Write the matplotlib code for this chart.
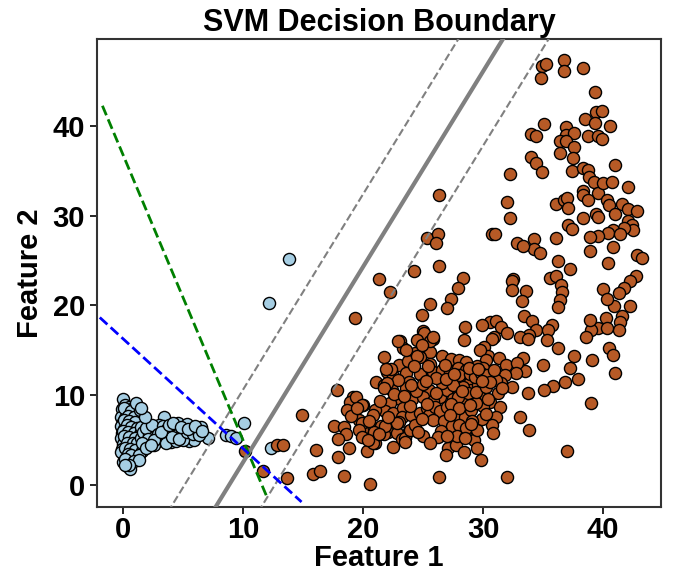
import matplotlib
matplotlib.use("Agg")
import matplotlib.pyplot as plt
import numpy as np

plt.rcParams['font.family'] = ['Liberation Sans', 'DejaVu Sans']
plt.rcParams['font.weight'] = 'bold'

# ---- class 0 (light blue) ----
blue_x = [0.0, 0.2, 0.5, 0.8, 1.1, -0.1, 0.3, 0.6, 1.0, 1.4, -0.2, 0.2, 0.7, 1.2, 1.6, 0.0, 0.4, 0.9, 1.3, -0.2,
          0.1, 0.6, 1.1, 1.6, 2.0, -0.1, 0.3, 0.8, 1.2, 1.7, -0.2, 0.2, 0.6, 1.0, 1.4, 0.0, 0.4, 0.9, 1.3, -0.1,
          0.3, 0.7, 1.1, 0.1, 0.5, 0.9, 0.2, 0.6, 0.3, 0.6, 0.8, -0.2, 0.0,
          1.8, 2.1, 2.3, 2.5, 2.7, 2.9, 3.1, 3.3, 3.4, 3.6, 3.8, 4.0, 4.2, 4.4, 4.6, 4.8, 5.0, 5.2, 5.4, 5.6,
          5.8, 6.0, 6.2, 6.5, 2.0, 2.6, 1.9, 3.0, 4.0, 4.6, 5.3, 5.5, 7.1, 8.6, 9.0, 9.45, 10.1, 12.3, 12.2, 13.8,
          0.1, 0.7, 0.4, 0.9, 0.1, 0.5, 1.0, 0.3, 0.7, 1.2, 0.0, 0.4, 0.9, 1.4, 0.1, 0.5, 1.0, 0.3, 0.8, 1.2,
          0.2, 0.6, 1.0, 0.4, 0.7, 0.2, 1.5, 1.5, 1.7, 2.2, 2.4, 2.8, 3.0, 3.5, 3.9, 4.3, 4.5, 4.9, 5.1, 5.7,
          6.1, 5.9, 2.2, 1.8, 1.6, 1.3, 3.6, 4.4, 5.0,
          1.9, 2.4, 2.9, 3.3, 3.7, 4.1, 4.7, 5.3, 5.8, 6.3, 2.1, 2.6, 3.2, 3.8, 4.2, 4.8, 5.4, 6.0, 6.6, 1.4,
          1.8, 1.1, 1.5, 0.9, 1.3, 0.5, 0.2, 1.6, 1.9, 2.3]
blue_y = [9.6, 8.9, 8.7, 8.5, 8.3, 8.4, 8.1, 7.9, 7.8, 7.9, 7.6, 7.4, 7.3, 7.2, 7.0, 7.0, 6.8, 6.7, 6.5, 6.5,
          6.2, 6.1, 6.0, 6.1, 6.3, 5.8, 5.6, 5.5, 5.4, 5.5, 5.2, 5.0, 4.9, 4.8, 4.9, 4.5, 4.3, 4.2, 4.4, 4.0,
          3.8, 3.6, 3.7, 3.3, 3.0, 3.1, 2.7, 2.4, 2.1, 1.7, 2.9, 3.6, 2.5,
          6.8, 5.9, 5.2, 6.4, 5.7, 4.9, 6.1, 5.4, 7.6, 5.9, 5.0, 6.3, 5.6, 6.6, 5.2, 6.0, 5.5, 6.3, 5.0, 5.8,
          6.1, 5.4, 5.9, 6.4, 4.6, 4.4, 5.0, 6.7, 4.8, 6.9, 6.8, 4.9, 5.25, 5.5, 5.4, 5.2, 6.9, 4.1, 20.3, 25.2,
          8.6, 8.2, 7.7, 7.5, 7.2, 7.1, 7.0, 6.6, 6.4, 6.3, 6.0, 5.9, 5.8, 5.7, 5.4, 5.3, 5.2, 4.7, 4.6, 4.6,
          4.1, 4.0, 3.9, 3.4, 3.3, 2.9, 5.2, 6.4, 5.9, 5.5, 6.0, 6.2, 5.2, 5.5, 5.8, 6.1, 5.5, 5.7, 6.0, 5.5,
          6.2, 5.0, 4.8, 4.3, 3.8, 3.3, 4.7, 4.9, 5.0,
          6.3, 6.6, 5.6, 6.5, 6.2, 5.3, 5.1, 5.9, 5.6, 5.5, 5.1, 5.0, 5.9, 6.6, 6.9, 6.4, 6.2, 6.5, 6.0, 8.3,
          7.6, 9.1, 8.6, 2.6, 2.8, 2.2, 2.2, 4.6, 4.1, 4.4]

# ---- class 1 (brown) ----
brown_x = [34.9, 35.2, 34.8, 36.7, 36.7, 38.3, 39.3, 39.4, 39.9, 38.5, 39.3, 40.6, 35.1, 34.0, 34.4, 36.9, 36.9, 37.6,
           38.7, 39.6, 39.9, 36.4, 36.9, 36.4, 37.6, 37.5, 34.0, 34.4, 34.9, 37.4, 38.3, 38.7, 38.8, 39.2, 39.6, 40.0,
           40.7, 41.0, 42.1, 32.2, 32.0, 32.2, 36.1, 36.7, 37.0, 37.1, 38.3, 38.3, 38.7, 40.3, 40.5, 41.6, 42.1, 42.8,
           41.0, 42.1, 42.4, 42.5, 41.7, 40.8, 40.4, 39.6, 38.9, 39.4, 39.6, 38.3, 37.1, 37.4, 36.1, 34.2, 34.2, 34.7,
           32.8, 33.3, 30.7, 31.0, 26.3, 25.3, 26.2, 26.1, 26.3, 24.2, 38.9, 40.8, 42.8, 43.2, 40.4, 36.2, 37.2, 35.6,
           36.1, 32.5, 28.3, 21.3, 41.4,
           22.2, 27.9, 27.3, 25.6, 27.0,
           32.4, 32.4, 33.6, 33.2, 33.4, 34.1, 34.4, 33.8, 33.1, 33.7, 36.45, 36.6, 36.4, 36.2, 35.7, 35.4, 35.3, 36.2,
           37.6, 37.2, 37.9, 36.8, 35.8, 35.1, 35.0, 33.7, 32.4, 33.1, 33.8, 37.0, 32.0, 40.0, 42.7, 42.2, 41.7, 41.3,
           40.9, 40.3, 42.2, 41.6, 41.4, 41.3, 40.2, 39.6, 39.0, 38.6, 38.9, 40.5, 40.8, 41.0, 39.1, 39.0, 30.6, 31.1,
           31.5, 32.0, 30.9, 30.7, 30.1, 30.4, 31.3, 31.9, 33.3, 33.5, 32.8, 32.7, 31.8, 29.7, 40.3, 31.5, 31.1,
           31.25, 30.56, 31.39, 31.1, 30.78, 30.83, 29.86, 30.14, 30.28,
           24.9, 28.5, 28.4, 29.9, 25.0, 25.1, 23.1, 23.3, 24.5, 25.8, 25.6, 21.7, 24.3, 24.7, 23.0, 23.7, 25.6, 26.6,
           27.3, 28.0, 28.6, 29.5, 30.0, 22.0, 22.5, 23.6, 23.8, 24.8, 25.8, 26.6, 27.2, 27.9, 28.6, 21.1, 21.7, 22.4,
           23.6, 25.5, 26.4, 27.0, 27.8, 28.3, 28.9, 29.0, 29.6, 29.7, 29.2, 30.0, 28.2, 27.5, 23.1, 22.2, 24.1, 25.0,
           25.8, 21.1, 21.8, 22.5, 23.3, 23.2, 24.0, 24.7, 25.3, 25.5, 26.0, 26.4, 27.0, 27.5, 27.9, 28.5, 29.0, 25.8,
           26.7, 27.4, 28.0, 20.8, 21.5, 22.1, 22.8, 23.8, 25.0, 21.1, 21.0, 23.2, 22.5, 27.1, 27.7, 27.8, 28.6, 29.2,
           29.5, 26.3, 20.6, 28.6, 29.5, 29.4, 28.6, 27.4, 27.9,
           22.9, 23.6, 25.6, 25.8, 24.5, 24.7, 25.4, 22.3, 22.9, 22.0, 21.7, 19.2, 20.0, 21.0, 20.8, 19.7, 19.9, 21.0,
           21.7, 21.8, 20.3, 23.5, 23.9, 28.5,
           17.8, 14.9, 18.9, 19.4, 19.9, 18.7, 19.0, 19.9, 19.7, 19.9, 17.6, 18.4, 18.6, 17.9, 18.8, 20.8, 20.9, 21.3,
           16.1, 17.9, 15.8, 16.4, 18.4, 13.7, 12.8, 13.3, 10.2, 11.7, 19.3,
           28.0, 28.9, 29.3, 29.8, 30.3, 28.3, 28.7, 29.4, 30.2, 30.6, 27.3, 28.0, 26.6, 26.1, 27.5, 30.4, 29.9, 29.1,
           24.4, 24.0,
           22.6, 23.0, 23.9, 24.3, 24.9, 25.3, 26.1, 26.9, 27.6, 28.2, 28.8, 29.6, 26.5, 25.0, 24.2, 23.4, 22.8, 21.4,
           20.4, 19.5, 26.2, 27.0, 28.9, 29.9, 30.9, 31.6, 25.6, 26.9, 22.1, 24.6, 27.2, 28.4, 29.0, 30.2, 21.9, 20.5,
           24.9, 26.8, 23.5, 25.2]
brown_y = [46.7, 46.9, 45.4, 47.4, 46.1, 46.5, 43.8, 41.6, 41.7, 40.8, 40.3, 40.0, 40.2, 39.1, 38.9, 39.9, 39.0, 39.2,
           38.9, 38.9, 38.6, 38.3, 38.3, 37.0, 37.7, 36.4, 36.5, 35.9, 34.9, 35.0, 35.3, 35.1, 34.3, 33.7, 32.5, 33.6,
           33.8, 35.7, 33.2, 34.6, 31.5, 29.7, 31.3, 31.8, 32.0, 30.9, 32.7, 32.3, 31.8, 31.8, 31.2, 31.3, 30.7, 30.5,
           30.2, 29.4, 29.0, 28.4, 28.6, 28.4, 28.1, 27.7, 27.6, 30.2, 29.9, 29.7, 29.0, 28.5, 27.5, 27.4, 26.3, 25.8,
           26.9, 26.6, 28.0, 28.0, 32.3, 27.5, 27.9, 26.9, 24.4, 23.8, 26.1, 26.5, 25.6, 25.3, 24.7, 24.9, 24.0, 23.0,
           23.3, 22.9, 23.1, 22.9, 27.9,
           21.5, 21.9, 20.7, 20.2, 19.7,
           22.7, 21.7, 21.6, 20.5, 18.8, 18.2, 17.3, 16.7, 16.5, 16.2, 22.3, 21.5, 20.6, 19.8, 17.8, 17.3, 16.1, 15.2,
           14.4, 13.0, 11.8, 11.4, 11.0, 10.6, 13.3, 10.2, 10.9, 7.5, 6.1, 3.8, 0.9, 21.8, 23.3, 22.7, 21.9, 21.4,
           19.9, 20.7, 19.9, 18.8, 18.1, 17.3, 18.6, 17.5, 17.3, 16.5, 18.4, 15.2, 14.5, 12.5, 13.9, 9.1, 18.1, 18.3,
           17.6, 16.9, 16.5, 16.2, 15.4, 14.3, 14.1, 13.4, 14.1, 12.7, 13.6, 12.4, 12.2, 15.0, 17.5, 11.3, 11.7,
           10.2, 9.27, 8.71, 7.6, 6.67, 5.74, 2.76, 13.0, 13.9,
           18.9, 17.6, 16.1, 17.8, 17.1, 16.9, 16.0, 15.2, 16.1, 16.2, 14.8, 14.2, 14.7, 14.2, 13.4, 13.8, 13.5, 14.4,
           14.0, 13.9, 13.7, 13.2, 13.0, 12.6, 12.1, 12.4, 11.5, 12.2, 12.6, 12.8, 12.6, 13.0, 12.8, 11.5, 11.1, 10.6,
           10.8, 10.6, 9.8, 10.6, 10.8, 11.7, 11.5, 10.6, 11.1, 9.8, 9.5, 8.8, 9.5, 9.5, 9.5, 9.1, 9.5, 9.8,
           9.3, 8.3, 8.2, 8.0, 8.5, 7.5, 7.8, 8.0, 8.5, 7.8, 8.7, 8.2, 8.7, 8.0, 7.4, 7.6, 8.3, 7.2,
           7.1, 6.5, 6.6, 6.3, 6.5, 5.9, 5.8, 6.0, 5.4, 5.4, 4.6, 5.1, 4.2, 4.1, 4.4, 5.4, 5.4, 5.0,
           4.1, 0.9, 0.1, 6.3, 6.1, 9.1, 9.5, 11.7, 9.8,
           16.0, 15.0, 16.0, 16.5, 14.3, 12.3, 13.2, 12.9, 11.7, 11.3, 10.8, 9.8, 8.9, 8.3, 7.8, 7.2, 6.1, 5.7,
           5.7, 6.5, 3.8, 5.2, 6.1, 5.2,
           10.6, 7.8, 9.2, 9.8, 8.9, 8.3, 7.7, 6.9, 6.1, 5.3, 6.5, 6.4, 5.7, 5.1, 4.1, 4.6, 5.9, 5.7,
           3.9, 3.1, 1.2, 1.5, 1.0, 0.7, 4.4, 4.4, 3.7, 1.5, 18.6,
           12.2, 12.3, 12.0, 12.4, 12.2, 10.9, 10.2, 10.3, 10.9, 11.5, 9.0, 8.5, 11.3, 11.9, 11.1, 9.6, 7.3, 7.1,
           10.4, 11.1,
           10.1, 7.0, 8.8, 6.6, 7.3, 9.0, 10.2, 11.8, 12.3, 10.4, 13.0, 12.9, 6.0, 11.2, 13.2, 9.9, 6.9, 9.3,
           5.0, 8.5, 5.3, 5.4, 8.9, 11.6, 12.8, 10.8, 4.7, 3.3, 7.6, 5.9, 7.8, 3.6, 6.8, 7.9, 12.9, 7.1,
           15.6, 13.4, 4.8, 11.6]

# ---- decision lines: y = slope * x + intercept ----
svm_slope = 2.18
svm_intercepts = [-19.3, -11.2, -27.6]        # boundary, upper margin, lower margin
green_slope, green_intercept = -3.183, 36.78
green_xrange = [-1.72, 12.03]
blue_slope, blue_intercept = -1.224, 16.27
blue_xrange = [-1.94, 14.87]

xlim = (-2.17, 44.8)
ylim = (-2.46, 49.7)

fig = plt.figure(figsize=(6.77, 5.77), dpi=100)
ax = fig.add_axes([0.1433, 0.1218, 0.8327, 0.8106])

ax.scatter(blue_x, blue_y, s=76, c='#a6cee3', edgecolors='k', linewidths=1.0, zorder=2)
ax.scatter(brown_x, brown_y, s=76, c='#b75a26', edgecolors='k', linewidths=1.0, zorder=2)

xx = np.array([-10.0, 60.0])
ax.plot(xx, svm_slope * xx + svm_intercepts[0], color='gray', lw=3.0, ls='-', zorder=3)
ax.plot(xx, svm_slope * xx + svm_intercepts[1], color='gray', lw=1.5, ls='--', zorder=3)
ax.plot(xx, svm_slope * xx + svm_intercepts[2], color='gray', lw=1.5, ls='--', zorder=3)

gx = np.array(green_xrange)
ax.plot(gx, green_slope * gx + green_intercept, color='green', lw=2.0, ls='--', zorder=4)
bx = np.array(blue_xrange)
ax.plot(bx, blue_slope * bx + blue_intercept, color='blue', lw=2.0, ls='--', zorder=4)

ax.set_xlim(*xlim)
ax.set_ylim(*ylim)
ax.set_xticks([0, 10, 20, 30, 40])
ax.set_yticks([0, 10, 20, 30, 40])
ax.tick_params(labelsize=21, width=1.2, length=5)
ax.tick_params(axis='x', pad=2)
for lab in ax.get_xticklabels() + ax.get_yticklabels():
    lab.set_fontweight('bold')
for sp in ax.spines.values():
    sp.set_linewidth(1.5)
    sp.set_color('#333333')

ax.set_title('SVM Decision Boundary', fontsize=22, fontweight='bold', pad=6)
ax.set_xlabel('Feature 1', fontsize=21, fontweight='bold', labelpad=0)
ax.set_ylabel('Feature 2', fontsize=21, fontweight='bold', labelpad=6)

fig.savefig('out.png', dpi=100)
